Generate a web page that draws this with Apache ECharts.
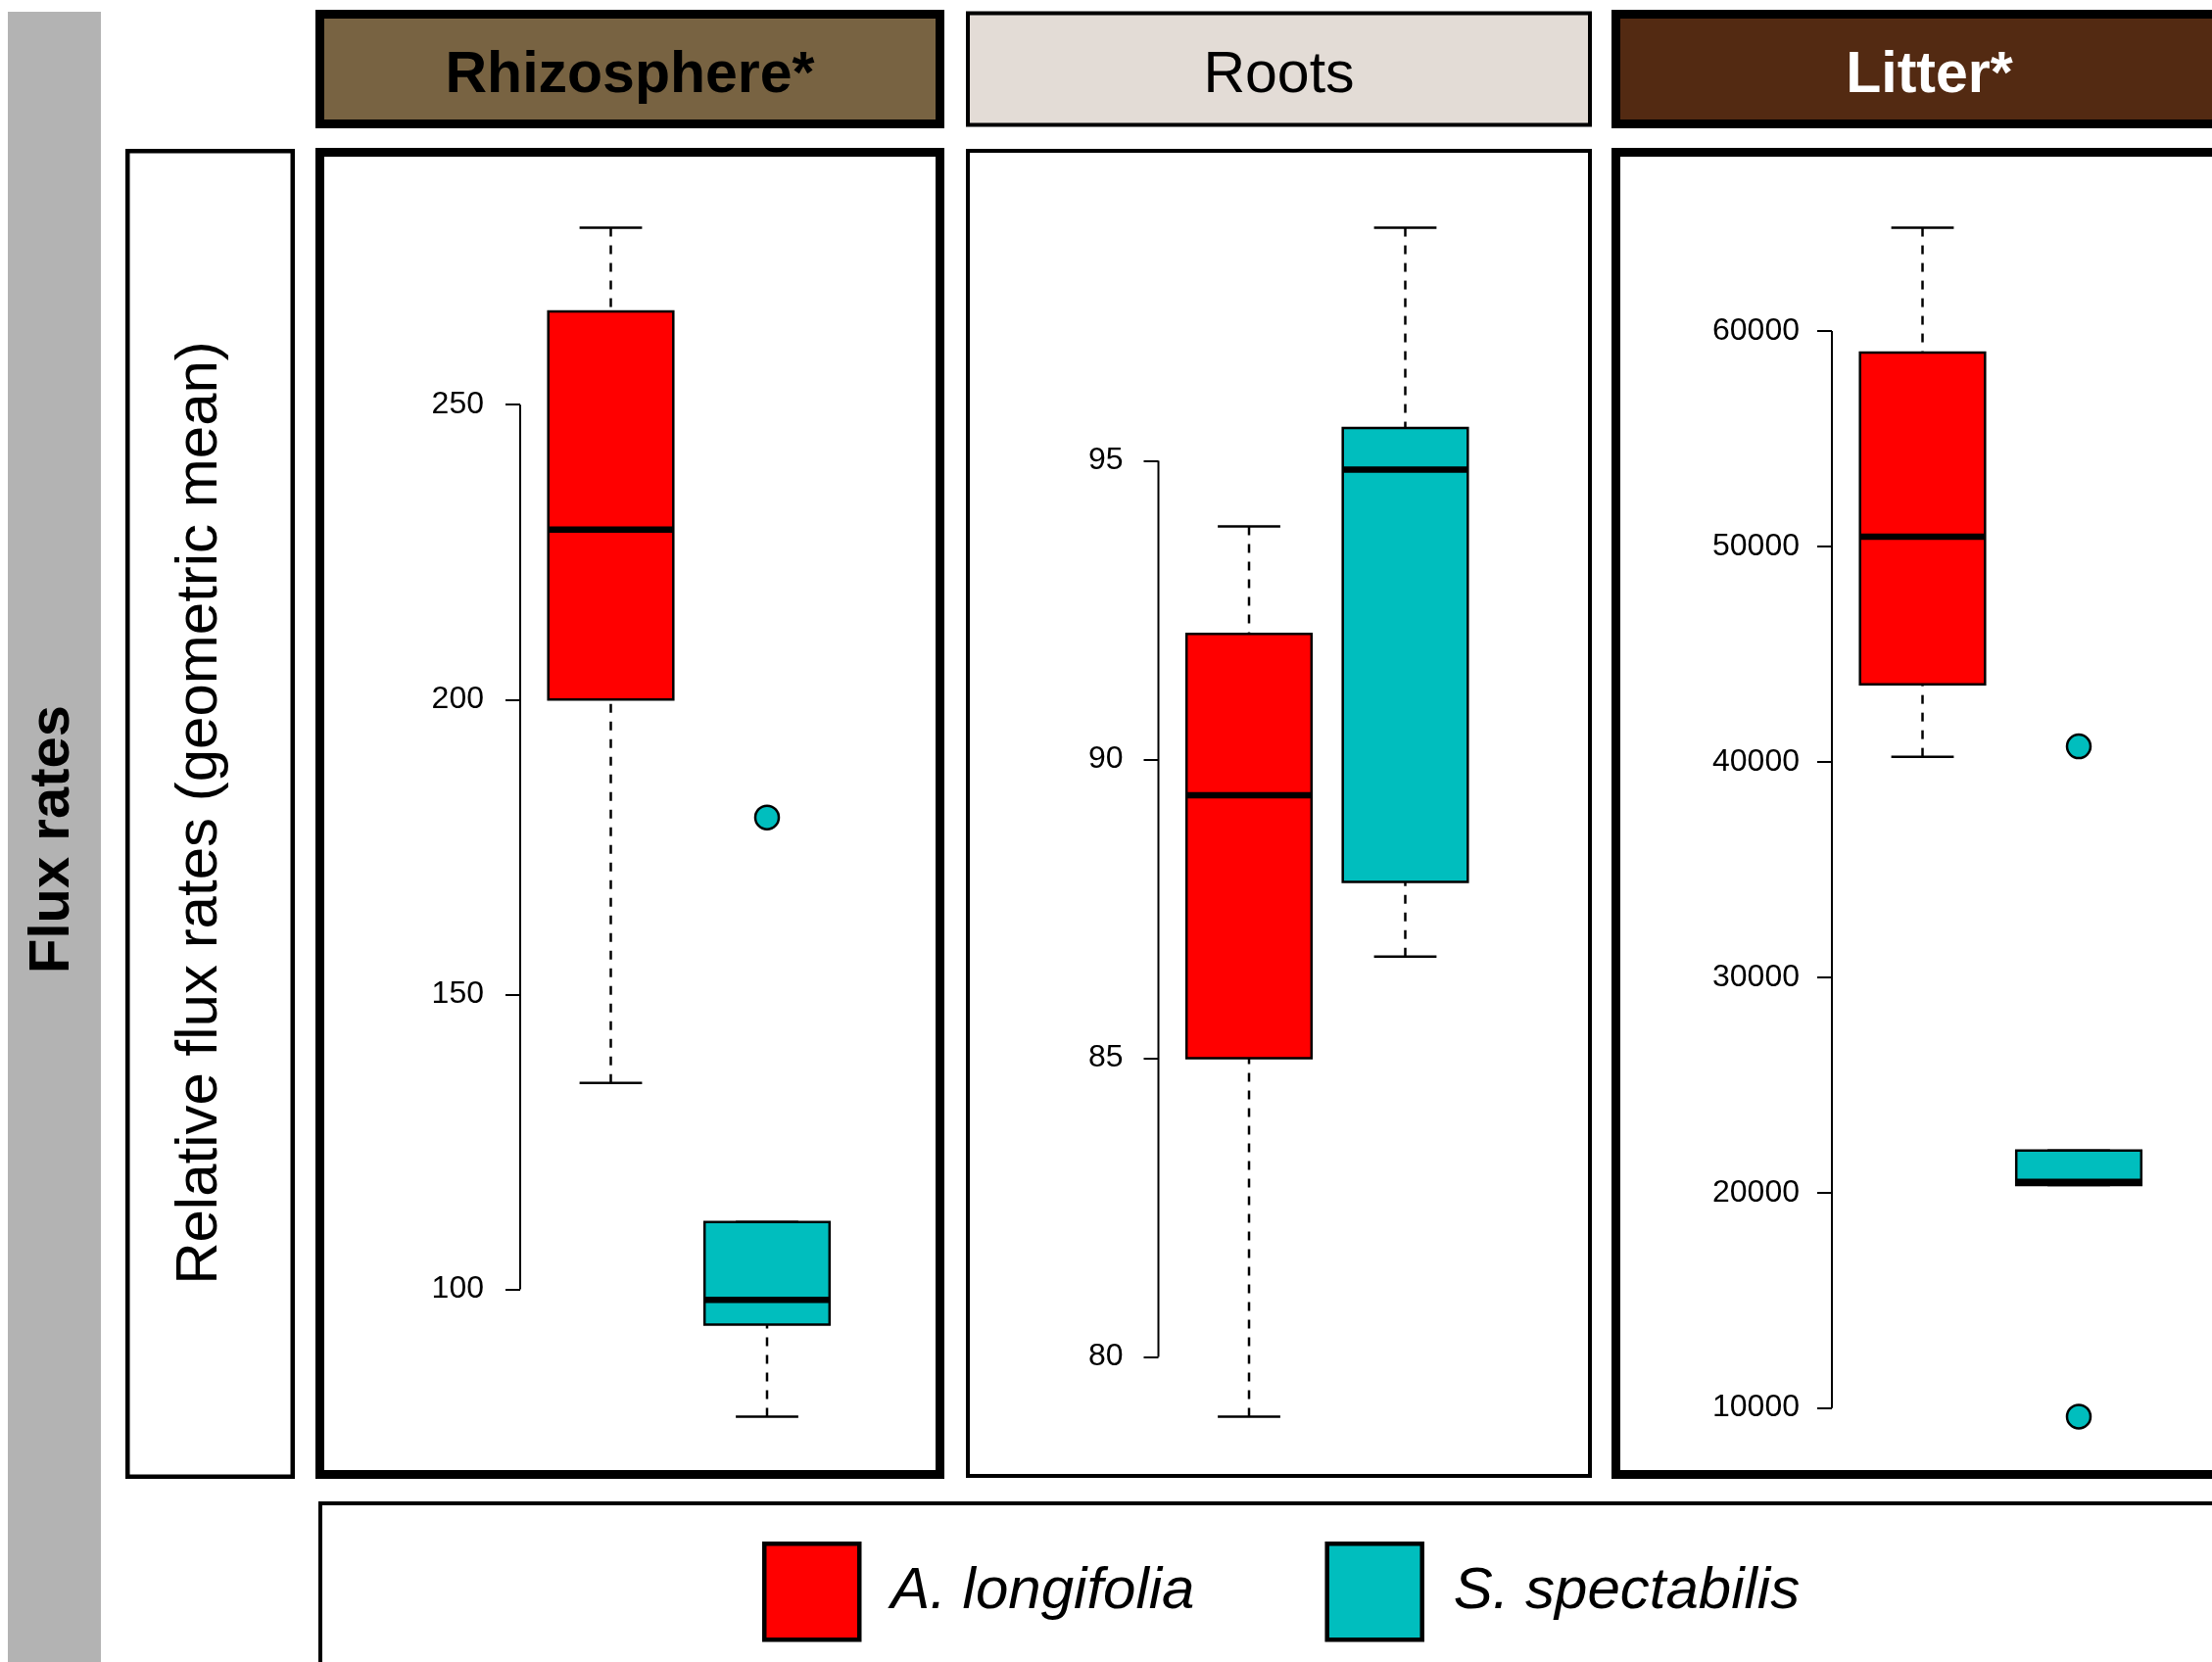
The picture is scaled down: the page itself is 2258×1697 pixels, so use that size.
<!DOCTYPE html>
<html>
<head>
<meta charset="utf-8">
<script src="https://cdn.jsdelivr.net/npm/echarts@6/dist/echarts.min.js"></script>
<style>
  html, body { margin: 0; padding: 0; background: #fff; }
  #chart { width: 2258px; height: 1697px; }
</style>
</head>
<body>
<div id="chart"></div>
<script>
var FONT = '"Liberation Sans", Arial, Helvetica, sans-serif'

var panelNames = ['Rhizosphere*', 'Roots', 'Litter*']
var speciesNames = ['A. longifolia', 'S. spectabilis']
var speciesColors = ['#ff0000', '#00bebe']
var positions = [1, 2]

// [lower whisker, Q1, median, Q3, upper whisker]
var rhizoLongifolia = [135, 200, 228.8, 265.8, 280]
var rhizoSpectabilis = [78.4, 94, 98.2, 111.4, 111.4]
var rootsLongifolia = [79.0, 85.0, 89.4, 92.1, 93.9]
var rootsSpectabilis = [86.7, 87.95, 94.85, 95.55, 98.9]
var litterLongifolia = [40240, 43600, 50450, 59000, 64800]
var litterSpectabilis = [20350, 20350, 20500, 21960, 21960]

// outliers (S. spectabilis only)
var rhizoOutliers = [180]
var rootsOutliers = []
var litterOutliers = [40720, 9600]

// tick labels
var rhizoTicks = [100, 150, 200, 250]
var rootsTicks = [80, 85, 90, 95]
var litterTicks = [10000, 20000, 30000, 40000, 50000, 60000]

var panels = [
  { boxes: [rhizoLongifolia, rhizoSpectabilis], outliers: rhizoOutliers, ticks: rhizoTicks, left: 531, margin: 37 },
  { boxes: [rootsLongifolia, rootsSpectabilis], outliers: rootsOutliers, ticks: rootsTicks, left: 1182.5, margin: 36 },
  { boxes: [litterLongifolia, litterSpectabilis], outliers: litterOutliers, ticks: litterTicks, left: 1870, margin: 33 }
]

var X_MIN = 0.42
var X_MAX = 2.58

// R style: extend range by 4%
function yRange(p) {
  var all = []
  p.boxes.forEach(function(b) { all = all.concat(b) })
  all = all.concat(p.outliers)
  var lo = Math.min.apply(null, all)
  var hi = Math.max.apply(null, all)
  var pad = (hi - lo) * 0.04
  return [lo - pad, hi + pad]
}

function renderBox(params, api) {
  var x = api.value(0)
  var lo = api.coord([x, api.value(1)])
  var q1 = api.coord([x, api.value(2)])
  var md = api.coord([x, api.value(3)])
  var q3 = api.coord([x, api.value(4)])
  var hi = api.coord([x, api.value(5)])
  var half = api.size([0.8, 0])[0] / 2
  var cap = half / 2
  var cx = q1[0]
  var dash = { stroke: '#000', lineWidth: 2.5, lineDash: [9, 9] }
  var solid = { stroke: '#000', lineWidth: 2.5 }
  return {
    type: 'group',
    children: [
      { type: 'line', shape: { x1: cx, y1: hi[1], x2: cx, y2: q3[1] }, style: dash },
      { type: 'line', shape: { x1: cx, y1: lo[1], x2: cx, y2: q1[1] }, style: dash },
      { type: 'line', shape: { x1: cx - cap, y1: hi[1], x2: cx + cap, y2: hi[1] }, style: solid },
      { type: 'line', shape: { x1: cx - cap, y1: lo[1], x2: cx + cap, y2: lo[1] }, style: solid },
      { type: 'rect', shape: { x: cx - half, y: q3[1], width: half * 2, height: q1[1] - q3[1] },
        style: { fill: api.visual('color'), stroke: '#000', lineWidth: 2.5 } },
      { type: 'line', shape: { x1: cx - half, y1: md[1], x2: cx + half, y2: md[1] },
        style: { stroke: '#000', lineWidth: 6.5 } }
    ]
  }
}

var grids = []
var xAxes = []
var yAxes = []
var series = []

panels.forEach(function(p, i) {
  var r = yRange(p)
  grids.push({ left: p.left, width: 344.5, top: 184, height: 1311 })
  xAxes.push({ gridIndex: i, type: 'value', min: X_MIN, max: X_MAX, show: false })
  yAxes.push({
    gridIndex: i,
    type: 'value',
    min: r[0],
    max: r[1],
    axisLine: { show: false },
    splitLine: { show: false },
    axisTick: { show: true, length: 15, customValues: p.ticks, lineStyle: { color: '#000', width: 2 } },
    axisLabel: {
      show: true, customValues: p.ticks, margin: p.margin, color: '#000', fontSize: 32, fontFamily: FONT,
      padding: [9, 0, 0, 0],
      formatter: function(v) { return String(v) }
    }
  })
  // axis line from first to last tick (R style)
  series.push({
    type: 'line',
    xAxisIndex: i,
    yAxisIndex: i,
    data: [[X_MIN, p.ticks[0]], [X_MIN, p.ticks[p.ticks.length - 1]]],
    symbol: 'none',
    clip: false,
    silent: true,
    lineStyle: { color: '#000', width: 2 },
    z: 3
  })
  p.boxes.forEach(function(b, k) {
    series.push({
      type: 'custom',
      name: speciesNames[k],
      xAxisIndex: i,
      yAxisIndex: i,
      itemStyle: { color: speciesColors[k] },
      renderItem: renderBox,
      encode: { x: 0, y: [1, 2, 3, 4, 5] },
      data: [[positions[k]].concat(b)],
      z: 4
    })
  })
  if (p.outliers.length) {
    series.push({
      type: 'scatter',
      name: speciesNames[1],
      xAxisIndex: i,
      yAxisIndex: i,
      symbol: 'circle',
      symbolSize: 24,
      itemStyle: { color: speciesColors[1], borderColor: '#000', borderWidth: 2.5, opacity: 1 },
      data: p.outliers.map(function(v) { return [positions[1], v] }),
      z: 5
    })
  }
})

var headerFill = ['#786342', '#e3dcd6', '#532a12']
var headerText = ['#000', '#000', '#fff']
var headerWeight = ['bold', 'normal', 'bold']
var headerBox = [
  { x: 326.5, w: 633, lw: 9 },
  { x: 988, w: 635, lw: 4 },
  { x: 1649.5, w: 640, lw: 9 }
]

var graphics = [
  { type: 'rect', shape: { x: 8, y: 12, width: 95, height: 1700 }, style: { fill: '#b3b3b3' }, z: 0 },
  { type: 'text', x: 54, y: 857, rotation: Math.PI / 2,
    style: { text: 'Flux rates', fill: '#000', font: 'bold 58px ' + FONT, textAlign: 'center', textVerticalAlign: 'middle' } },
  { type: 'rect', shape: { x: 130.25, y: 154.25, width: 168.5, height: 1353.5 },
    style: { fill: 'none', stroke: '#000', lineWidth: 4.5 } },
  { type: 'text', x: 204, y: 830, rotation: Math.PI / 2,
    style: { text: 'Relative flux rates (geometric mean)', fill: '#000', font: '60px ' + FONT, textAlign: 'center', textVerticalAlign: 'middle' } },
  { type: 'rect', shape: { x: 327, y: 1535, width: 2000, height: 300 },
    style: { fill: 'none', stroke: '#000', lineWidth: 4 } }
]

headerBox.forEach(function(h, i) {
  var y0 = h.lw > 5 ? 14.5 : 13.5
  var hh = h.lw > 5 ? 112 : 114
  graphics.push({ type: 'rect', shape: { x: h.x, y: y0, width: h.w, height: hh },
    style: { fill: headerFill[i], stroke: '#000', lineWidth: h.lw } })
  graphics.push({ type: 'text', x: h.x + h.w / 2, y: 78,
    style: { text: panelNames[i], fill: headerText[i], font: headerWeight[i] + ' 59px ' + FONT,
      textAlign: 'center', textVerticalAlign: 'middle' } })
  var fy = h.lw > 5 ? 155.5 : 154
  var fh = h.lw > 5 ? 1350 : 1353
  graphics.push({ type: 'rect', shape: { x: h.x, y: fy, width: h.w, height: fh },
    style: { fill: 'none', stroke: '#000', lineWidth: h.lw } })
})

var chart = echarts.init(document.getElementById('chart'))
chart.setOption({
  backgroundColor: '#fff',
  animation: false,
  grid: grids,
  xAxis: xAxes,
  yAxis: yAxes,
  legend: {
    left: 778,
    top: 1574,
    padding: 0,
    itemWidth: 97,
    itemHeight: 98,
    itemGap: 133,
    icon: 'rect',
    selectedMode: false,
    itemStyle: { borderColor: '#000', borderWidth: 4.5 },
    textStyle: { fontSize: 60, fontStyle: 'italic', color: '#000', fontFamily: FONT, padding: [3, 0, 0, 27] },
    data: speciesNames.map(function(n, k) { return { name: n, itemStyle: { color: speciesColors[k] } } })
  },
  graphic: graphics,
  series: series
})
</script>
</body>
</html>
